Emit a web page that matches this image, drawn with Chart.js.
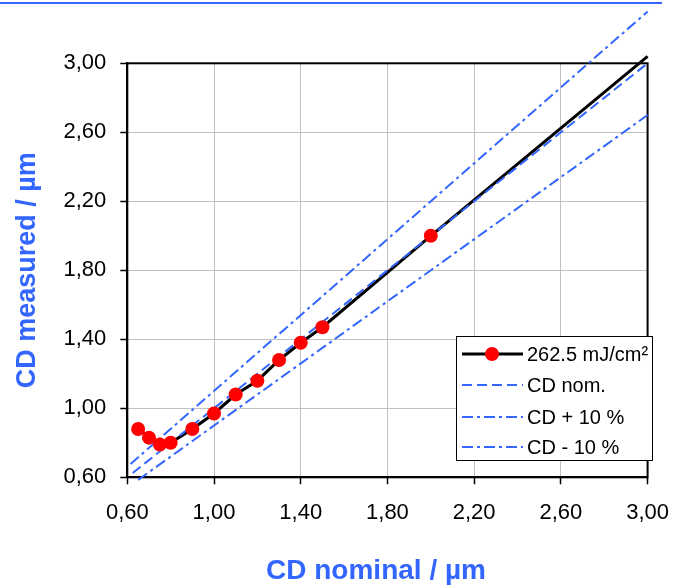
<!DOCTYPE html>
<html>
<head>
<meta charset="utf-8">
<style>
  html, body { margin: 0; padding: 0; background: #fff; }
</style>
</head>
<body>
<canvas id="cdChart" width="684" height="586"></canvas>
<script src="https://cdn.jsdelivr.net/npm/chart.js@4/dist/chart.umd.min.js"></script>
<script>
// CD measured vs CD nominal, with +/-10 % reference lines

const nominal  = [0.65, 0.70, 0.75, 0.80, 0.90, 1.00, 1.10, 1.20, 1.30, 1.40, 1.50, 2.00, 3.00];
const measured = [0.88, 0.83, 0.79, 0.80, 0.88, 0.97, 1.08, 1.16, 1.28, 1.38, 1.47, 2.00, 3.04];
const markedCount = 12; // last value only continues the line, no marker

const nomLineX   = [0.625, 3.00];
const nomLineY   = [0.625, 3.00];
const plusLineX  = [0.615, 3.00];
const plusLineY  = [0.677, 3.30];
const minusLineX = [0.65, 3.00];
const minusLineY = [0.585, 2.70];

const xTicks = [0.60, 1.00, 1.40, 1.80, 2.20, 2.60, 3.00];
const yTicks = [0.60, 1.00, 1.40, 1.80, 2.20, 2.60, 3.00];

const seriesNames = ["262.5 mJ/cm²", "CD nom.", "CD + 10 %", "CD - 10 %"];
const xTitle = "CD nominal / µm";
const yTitle = "CD measured / µm";

const FONT = "'Liberation Sans', Arial, sans-serif";
const BLUE = "#3366ff";
const RED = "#ff0000";
const DASH = [10, 5];
const DASH_DOT = [11, 4, 3, 4];

const toPoints = (xs, ys) => xs.map((x, i) => ({x: x, y: ys[i]}));
const measuredPts = toPoints(nominal, measured);
const fmt = v => Number(v).toFixed(2).replace(".", ",");

const refLine = (label, pts, dash) => ({
  label: label,
  data: pts,
  showLine: true,
  borderColor: BLUE,
  borderWidth: 2,
  borderDash: dash,
  pointRadius: 0,
  clip: false
});

const decor = {
  id: "decor",
  beforeDatasetsDraw(chart) {
    const {ctx, chartArea: a} = chart;
    ctx.save();
    ctx.strokeStyle = "#000";
    ctx.lineWidth = 2;
    ctx.strokeRect(a.left, a.top, a.right - a.left, a.bottom - a.top);
    ctx.restore();
  },
  afterDraw(chart) {
    const ctx = chart.ctx;
    ctx.save();

    // blue rule on top of the page
    ctx.strokeStyle = BLUE;
    ctx.lineWidth = 2;
    ctx.beginPath();
    ctx.moveTo(0, 3);
    ctx.lineTo(662, 3);
    ctx.stroke();

    // x axis title
    ctx.fillStyle = BLUE;
    ctx.font = "bold 28px " + FONT;
    ctx.textAlign = "center";
    ctx.textBaseline = "alphabetic";
    ctx.fillText(xTitle, 376, 579);

    // legend box
    const bx = 456, by = 336, bw = 196, bh = 124;
    ctx.fillStyle = "#fff";
    ctx.fillRect(bx, by, bw, bh);
    ctx.strokeStyle = "#000";
    ctx.lineWidth = 1;
    ctx.strokeRect(bx + 0.5, by + 0.5, bw, bh);

    const rows = [354, 385, 417, 447];
    const styles = [
      {color: "#000", width: 3, dash: []},
      {color: BLUE, width: 2, dash: DASH},
      {color: BLUE, width: 2, dash: DASH_DOT},
      {color: BLUE, width: 2, dash: DASH_DOT}
    ];
    ctx.font = "20px " + FONT;
    ctx.textAlign = "left";
    ctx.textBaseline = "middle";
    rows.forEach((y, i) => {
      const s = styles[i];
      ctx.strokeStyle = s.color;
      ctx.lineWidth = s.width;
      ctx.setLineDash(s.dash);
      ctx.beginPath();
      ctx.moveTo(462, y);
      ctx.lineTo(523, y);
      ctx.stroke();
      ctx.setLineDash([]);
      if (i === 0) {
        ctx.fillStyle = RED;
        ctx.beginPath();
        ctx.arc(492, y, 7, 0, Math.PI * 2);
        ctx.fill();
      }
      ctx.fillStyle = "#000";
      ctx.fillText(seriesNames[i], 527, y + 1);
    });
    ctx.restore();
  }
};

const ctx = document.getElementById("cdChart").getContext("2d");

new Chart(ctx, {
  type: "scatter",
  data: {
    datasets: [
      {
        label: seriesNames[0],
        data: measuredPts.slice(0, markedCount),
        showLine: false,
        pointRadius: 7,
        pointBackgroundColor: RED,
        pointBorderWidth: 0
      },
      refLine(seriesNames[1], toPoints(nomLineX, nomLineY), DASH),
      refLine(seriesNames[2], toPoints(plusLineX, plusLineY), DASH_DOT),
      refLine(seriesNames[3], toPoints(minusLineX, minusLineY), DASH_DOT),
      {
        label: seriesNames[0],
        data: measuredPts,
        showLine: true,
        borderColor: "#000",
        borderWidth: 3,
        pointRadius: 0,
        clip: false
      }
    ]
  },
  options: {
    responsive: false,
    animation: false,
    layout: {padding: {top: 63.3, right: 33.5, left: 0, bottom: 0}},
    plugins: {
      legend: {display: false},
      tooltip: {enabled: false}
    },
    scales: {
      x: {
        type: "linear",
        min: 0.6,
        max: 3.0,
        afterBuildTicks: s => { s.ticks = xTicks.map(v => ({value: v})); },
        afterFit: s => { s.height = 586 - 477.3; },
        ticks: {
          callback: fmt,
          font: {family: FONT, size: 22},
          color: "#000",
          padding: 15,
          maxRotation: 0,
          autoSkip: false
        },
        grid: {color: "#c0c0c0", lineWidth: 1, tickColor: "#000", tickLength: 7, tickWidth: 1.5},
        border: {color: "#000", width: 2}
      },
      y: {
        type: "linear",
        min: 0.6,
        max: 3.0,
        afterBuildTicks: s => { s.ticks = yTicks.map(v => ({value: v})); },
        afterFit: s => { s.width = 127.3; },
        ticks: {
          callback: fmt,
          font: {family: FONT, size: 22},
          color: "#000",
          padding: 14,
          autoSkip: false
        },
        grid: {color: "#c0c0c0", lineWidth: 1, tickColor: "#000", tickLength: 7, tickWidth: 1.5},
        border: {color: "#000", width: 2},
        title: {
          display: true,
          text: yTitle,
          color: BLUE,
          font: {family: FONT, size: 27, weight: "bold"},
          padding: {top: 11, bottom: 0}
        }
      }
    }
  },
  plugins: [decor]
});
</script>
</body>
</html>
